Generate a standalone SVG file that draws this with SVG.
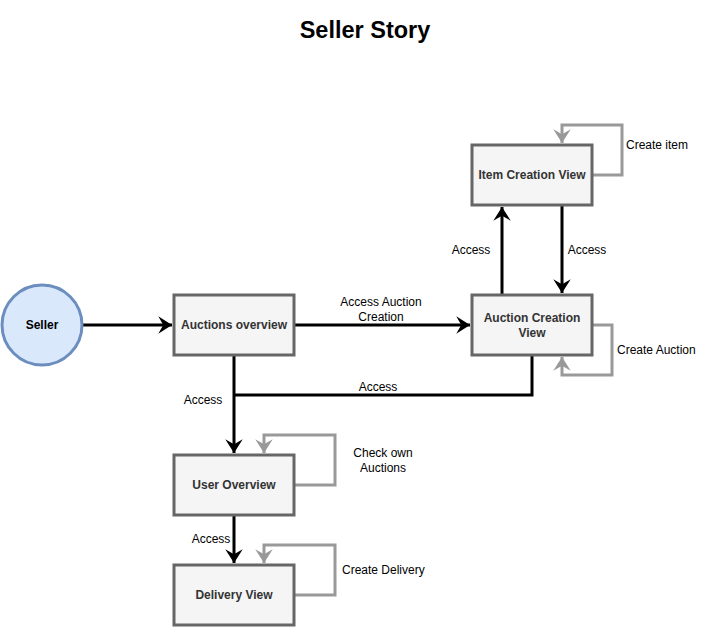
<svg xmlns="http://www.w3.org/2000/svg" width="702" height="627" viewBox="0 0 702 627">
<style>
.node rect{fill:#f5f5f5;stroke:#666;stroke-width:3}
.lbl{font-family:"Liberation Sans",Arial,sans-serif;font-size:12px;font-weight:bold;fill:#333;text-anchor:middle}
.e{fill:none;stroke:#000;stroke-width:3}
.g{fill:none;stroke:#999;stroke-width:3}
.el{font-family:"Liberation Sans",Arial,sans-serif;font-size:12px;fill:#000}
</style>
<defs>
<marker id="ab" markerUnits="userSpaceOnUse" markerWidth="20" markerHeight="20" viewBox="-12 -8 14 16" refX="0" refY="0" orient="auto">
<path d="M-11,-7 L0,0 L-11,7 L-7,0 Z" fill="#000"/>
</marker>
<marker id="ag" markerUnits="userSpaceOnUse" markerWidth="20" markerHeight="20" viewBox="-12 -8 14 16" refX="0" refY="0" orient="auto">
<path d="M-11,-7 L0,0 L-11,7 L-7,0 Z" fill="#999"/>
</marker>
</defs>
<rect width="702" height="627" fill="#fff"/>
<text x="365" y="38" font-family="Liberation Sans,Arial,sans-serif" font-size="23.5" font-weight="bold" text-anchor="middle" fill="#000">Seller Story</text>
<g id="connectors">
<path class="e" d="M82,325 L172,325" marker-end="url(#ab)"/>
<path class="e" d="M294,325 L470,325" marker-end="url(#ab)"/>
<path class="e" d="M502,295 L502,207" marker-end="url(#ab)"/>
<path class="e" d="M562,205 L562,293" marker-end="url(#ab)"/>
<path class="e" d="M234,355 L234,453" marker-end="url(#ab)"/>
<path class="e" d="M532,355 L532,395 L234,395"/>
<path class="e" d="M234,515 L234,563" marker-end="url(#ab)"/>
<path class="g" d="M592,175 L622,175 L622,125 L562,125 L562,143" marker-end="url(#ag)"/>
<path class="g" d="M592,325 L612,325 L612,375 L562,375 L562,357" marker-end="url(#ag)"/>
<path class="g" d="M294,485 L335,485 L335,435 L264,435 L264,453" marker-end="url(#ag)"/>
<path class="g" d="M294,595 L335,595 L335,545 L264,545 L264,563" marker-end="url(#ag)"/>
<text class="el" x="381" y="306" text-anchor="middle">Access Auction</text>
<text class="el" x="381" y="321" text-anchor="middle">Creation</text>
<text class="el" x="471" y="254" text-anchor="middle">Access</text>
<text class="el" x="587" y="254" text-anchor="middle">Access</text>
<text class="el" x="203" y="404" text-anchor="middle">Access</text>
<text class="el" x="378" y="391" text-anchor="middle">Access</text>
<text class="el" x="211" y="543" text-anchor="middle">Access</text>
<text class="el" x="626" y="149">Create item</text>
<text class="el" x="617" y="354">Create Auction</text>
<text class="el" x="383" y="457" text-anchor="middle">Check own</text>
<text class="el" x="383" y="472" text-anchor="middle">Auctions</text>
<text class="el" x="342" y="574">Create Delivery</text>
</g>
<g id="seller">
<circle cx="42" cy="325" r="40" fill="#dae8fc" stroke="#6c8ebf" stroke-width="3"/>
<text class="lbl" x="42" y="329" style="fill:#000">Seller</text>
</g>
<g id="auctions-overview" class="node">
<rect x="174" y="295" width="120" height="60"/>
<text class="lbl" x="234" y="329">Auctions overview</text>
</g>
<g id="item-creation-view" class="node">
<rect x="472" y="145" width="120" height="60"/>
<text class="lbl" x="532" y="179">Item Creation View</text>
</g>
<g id="auction-creation-view" class="node">
<rect x="472" y="295" width="120" height="60"/>
<text class="lbl" x="532" y="322">Auction Creation</text>
<text class="lbl" x="532" y="337">View</text>
</g>
<g id="user-overview" class="node">
<rect x="174" y="455" width="120" height="60"/>
<text class="lbl" x="234" y="489">User Overview</text>
</g>
<g id="delivery-view" class="node">
<rect x="174" y="565" width="120" height="60"/>
<text class="lbl" x="234" y="599">Delivery View</text>
</g>
</svg>
